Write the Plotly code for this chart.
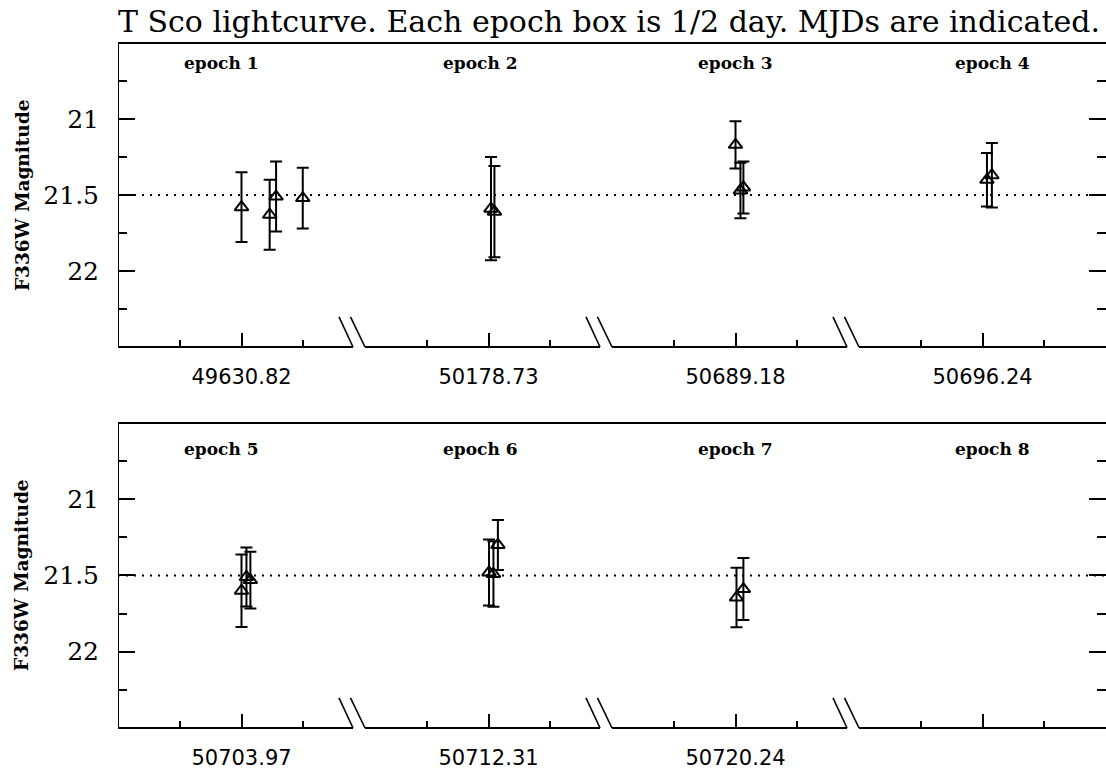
import plotly.graph_objects as go

# ---------------- data ----------------
TITLE = "T Sco lightcurve. Each epoch box is 1/2 day. MJDs are indicated."
epoch_names = ["epoch 1", "epoch 2", "epoch 3", "epoch 4",
               "epoch 5", "epoch 6", "epoch 7", "epoch 8"]
epoch_mjd = ["49630.82", "50178.73", "50689.18", "50696.24",
             "50703.97", "50712.31", "50720.24", ""]

# offsets (days) from the labelled MJD, F336W magnitudes and 1-sigma errors
dt1 = [0.000, 0.057, 0.070, 0.124]
mag1 = [21.58, 21.63, 21.51, 21.52]
err1 = [0.23, 0.23, 0.23, 0.20]

dt2 = [0.005, 0.012]
mag2 = [21.59, 21.61]
err2 = [0.34, 0.30]

dt3 = [0.000, 0.010, 0.016]
mag3 = [21.17, 21.47, 21.45]
err3 = [0.155, 0.183, 0.171]

dt4 = [0.009, 0.019]
mag4 = [21.40, 21.37]
err4 = [0.176, 0.212]

dt5 = [0.000, 0.010, 0.018]
mag5 = [21.60, 21.51, 21.53]
err5 = [0.238, 0.193, 0.186]

dt6 = [0.001, 0.010, 0.019]
mag6 = [21.48, 21.49, 21.30]
err6 = [0.216, 0.215, 0.164]

dt7 = [0.002, 0.016]
mag7 = [21.645, 21.589]
err7 = [0.195, 0.203]

dt8 = []
mag8 = []
err8 = []

y_major = [21, 21.5, 22]
y_major_text = ["21", "21.5", "22"]
y_minor = [20.75, 21.25, 21.75, 22.25]
ref_mag = 21.5

# ---------------- figure ----------------
BOX = 0.5          # each epoch box is half a day
NBOX = 4
dts = [dt1, dt2, dt3, dt4, dt5, dt6, dt7, dt8]
mags = [mag1, mag2, mag3, mag4, mag5, mag6, mag7, mag8]
errs = [err1, err2, err3, err4, err5, err6, err7, err8]

fig = go.Figure()
for i in range(8):
    panel = i // NBOX
    k = i % NBOX
    if not dts[i]:
        continue
    xs = [k * BOX + BOX / 2 + d for d in dts[i]]
    fig.add_trace(go.Scatter(
        x=xs, y=mags[i], mode="markers",
        xaxis="x" if panel == 0 else "x2",
        yaxis="y" if panel == 0 else "y2",
        marker=dict(symbol="triangle-up-open", size=12, color="black",
                    line=dict(width=2, color="black")),
        error_y=dict(type="data", array=errs[i], visible=True,
                     color="black", thickness=2, width=6),
        showlegend=False, hoverinfo="skip"))

centers = [k * BOX + BOX / 2 for k in range(NBOX)]
minors = []
for c in centers:
    minors += [c - BOX / 4, c + BOX / 4]

font_sans = "DejaVu Sans"
font_serif = "DejaVu Serif"

def xaxis_cfg(texts, anchor):
    return dict(range=[0, NBOX * BOX], domain=[0, 1], anchor=anchor,
                showline=False, showgrid=False, zeroline=False,
                tickmode="array", tickvals=centers, ticktext=texts,
                ticks="inside", ticklen=14, tickwidth=2, tickcolor="black",
                minor=dict(tickmode="array", tickvals=minors, ticks="inside",
                           ticklen=7, tickwidth=2, tickcolor="black",
                           showgrid=False),
                tickfont=dict(family=font_sans, size=21, color="black"),
                ticklabelstandoff=15,
                fixedrange=True)

def yaxis_cfg(domain, anchor):
    return dict(range=[22.5, 20.5], domain=domain, anchor=anchor,
                showline=False, mirror="ticks",
                showgrid=False, zeroline=False,
                tickmode="array", tickvals=y_major, ticktext=y_major_text,
                ticks="inside", ticklen=17, tickwidth=2, tickcolor="black",
                minor=dict(tickmode="array", tickvals=y_minor, ticks="inside",
                           ticklen=9, tickwidth=2, tickcolor="black",
                           showgrid=False),
                tickfont=dict(family=font_serif, size=25, color="black"),
                ticklabelstandoff=18,
                fixedrange=True)

shapes = []
annotations = []
gap = 12 / 494.0
for panel, (xa, ya) in enumerate([("x", "y"), ("x2", "y2")]):
    yd = ya + " domain"
    # left frame line
    shapes.append(dict(type="line", xref=xa, yref=yd, x0=0, x1=0,
                       y0=0, y1=1, line=dict(color="black", width=2)))
    # top frame line
    shapes.append(dict(type="line", xref=xa, yref=yd, x0=0, x1=NBOX * BOX,
                       y0=1, y1=1, line=dict(color="black", width=2)))
    # bottom axis line with breaks
    bounds = [BOX * (k + 1) for k in range(NBOX - 1)]
    starts = [0] + bounds
    ends = [b - gap for b in bounds] + [NBOX * BOX]
    for s, e in zip(starts, ends):
        shapes.append(dict(type="line", xref=xa, yref=yd, x0=s, x1=e,
                           y0=0, y1=0, line=dict(color="black", width=2)))
    for b in bounds:
        shapes.append(dict(type="line", xref=xa, yref=yd,
                           x0=b - 26 / 494.0, x1=b - gap, y0=0.099, y1=0,
                           line=dict(color="black", width=1.6)))
        shapes.append(dict(type="line", xref=xa, yref=yd,
                           x0=b - 14.5 / 494.0, x1=b, y0=0.099, y1=0,
                           line=dict(color="black", width=1.6)))
    # dotted reference line
    shapes.append(dict(type="line", xref=xa, yref=ya, x0=0, x1=NBOX * BOX,
                       y0=ref_mag, y1=ref_mag,
                       line=dict(color="black", width=2, dash="2px,6px")))
    # epoch labels
    label_x = [0.2105, 0.7328, 1.251, 1.771]
    label_y = 0.934 if panel == 0 else 0.915
    for k in range(NBOX):
        annotations.append(dict(
            text="<b>" + epoch_names[panel * NBOX + k] + "</b>",
            xref=xa, yref=yd, x=label_x[k], y=label_y,
            xanchor="center", yanchor="middle", showarrow=False,
            font=dict(family=font_serif, size=17, color="black")))
    # y-axis title
    annotations.append(dict(
        text="<b>F336W Magnitude</b>", xref="paper", yref="paper",
        x=-0.0972, y=0.778 if panel == 0 else 0.2234,
        xanchor="center", yanchor="middle", textangle=-90, showarrow=False,
        font=dict(family=font_serif, size=18.5, color="black")))

fig.update_layout(
    width=1106, height=770,
    margin=dict(l=118, r=0, t=43, b=42),
    paper_bgcolor="white", plot_bgcolor="white",
    title=dict(text=TITLE, x=0.5506, xref="container", xanchor="center",
               y=1 - 21 / 770, yref="container", yanchor="middle",
               font=dict(family=font_serif, size=30, color="black")),
    xaxis=xaxis_cfg(epoch_mjd[:4], "y"),
    xaxis2=xaxis_cfg(epoch_mjd[4:], "y2"),
    yaxis=yaxis_cfg([0.5562, 1.0], "x"),
    yaxis2=yaxis_cfg([0.0, 0.4453], "x2"),
    shapes=shapes, annotations=annotations,
)

fig.write_html("out.html")
